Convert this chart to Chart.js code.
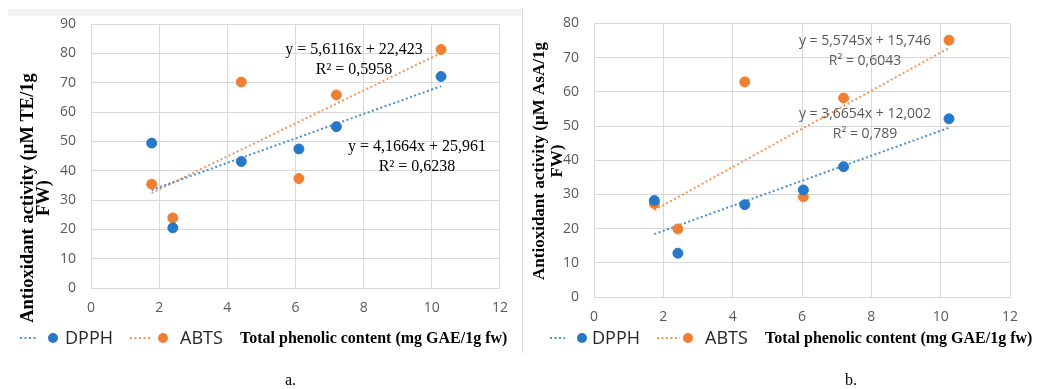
<!DOCTYPE html>
<html>
<head>
<meta charset="utf-8">
<script src="https://cdn.jsdelivr.net/npm/chart.js@4.4.1/dist/chart.umd.min.js"></script>
<style>
  body { margin: 0; background: #fff; }
  #wrap { position: relative; width: 1039px; height: 389px; overflow: hidden; background: #fff; }
  #chartA { position: absolute; left: 0; top: 0; }
  #chartB { position: absolute; left: 523px; top: 0; }
  .strip { position: absolute; left: 8px; top: 9px; width: 514px; height: 7px; background: #f2f2f2; }
  .sep { position: absolute; left: 522px; top: 8px; width: 1px; height: 345px; background: #d9d9d9; }
  .cap { position: absolute; top: 371px; font: 16px "Liberation Serif", serif; color: #000; }
</style>
</head>
<body>
<div id="wrap">
  <div class="strip"></div>
  <div class="sep"></div>
  <canvas id="chartA" width="520" height="389"></canvas>
  <canvas id="chartB" width="516" height="389"></canvas>
  <div class="cap" style="left:285px">a.</div>
  <div class="cap" style="left:845px">b.</div>
</div>
<script>
// panel a.
const phenolA = [1.78, 2.4, 4.41, 6.1, 7.2, 10.27];
const dpphA = [49.4, 20.5, 43.1, 47.4, 55.0, 72.1];
const abtsA = [35.4, 23.9, 70.2, 37.3, 65.8, 81.3];
const trendXA = [1.78, 10.27];
const dpphTrendA = [33.4, 68.8];
const abtsTrendA = [32.4, 80.1];

// panel b.
const phenolB = [1.74, 2.42, 4.35, 6.04, 7.2, 10.24];
const dpphB = [28.2, 12.8, 27.0, 31.3, 38.1, 52.1];
const abtsB = [27.3, 19.9, 62.9, 29.3, 58.2, 75.1];
const trendXB = [1.74, 10.24];
const dpphTrendB = [18.4, 49.5];
const abtsTrendB = [25.4, 72.8];

const xTicks = [0, 2, 4, 6, 8, 10, 12];
const yTicksA = [0, 10, 20, 30, 40, 50, 60, 70, 80, 90];
const yTicksB = [0, 10, 20, 30, 40, 50, 60, 70, 80];

const BLUE = "#2878c8";
const ORANGE = "#f07f32";
const BLUE_LINE = "#4a8fd6";
const ORANGE_LINE = "#f4955a";
const TICK = "#595959";

function pts(xs, ys) {
  return xs.map((x, i) => ({ x, y: ys[i] }));
}

function drawDotted(ctx, x1, x2, y, color) {
  ctx.save();
  ctx.strokeStyle = color;
  ctx.lineWidth = 2;
  ctx.setLineDash([2, 2.5]);
  ctx.beginPath();
  ctx.moveTo(x1, y);
  ctx.lineTo(x2, y);
  ctx.stroke();
  ctx.restore();
}

function drawDot(ctx, x, y, color) {
  ctx.save();
  ctx.fillStyle = color;
  ctx.beginPath();
  ctx.arc(x, y, 5, 0, Math.PI * 2);
  ctx.fill();
  ctx.restore();
}

// texts, legend and axis titles drawn around the plot
function decorPlugin(opt) {
  return {
    id: "decor",
    afterDraw(chart) {
      const ctx = chart.ctx;
      ctx.save();

      // y title, two rotated lines
      ctx.fillStyle = "#000";
      ctx.font = `bold ${opt.yTitleSize}px "Liberation Serif", serif`;
      ctx.textAlign = "center";
      ctx.textBaseline = "middle";
      opt.yTitle.forEach((line, i) => {
        ctx.save();
        ctx.translate(opt.yTitleX[i], opt.yTitleY);
        ctx.rotate(-Math.PI / 2);
        ctx.fillText(line, 0, 0);
        ctx.restore();
      });

      // equations
      ctx.font = opt.eqFont;
      ctx.fillStyle = opt.eqColor;
      opt.equations.forEach(eq => ctx.fillText(eq.text, eq.x, eq.y));

      // legend row
      const ly = opt.legendY;
      const lg = opt.legend;
      drawDotted(ctx, lg[0], lg[1], ly, BLUE_LINE);
      drawDot(ctx, lg[2], ly, BLUE);
      drawDotted(ctx, lg[4], lg[5], ly, ORANGE_LINE);
      drawDot(ctx, lg[6], ly, ORANGE);
      ctx.fillStyle = "#262626";
      ctx.font = '18px "Open Sans", sans-serif';
      ctx.textAlign = "left";
      ctx.fillText("DPPH", lg[3], ly + 1);
      ctx.fillText("ABTS", lg[7], ly + 1);

      // x title next to the legend
      ctx.fillStyle = "#000";
      ctx.font = `bold ${opt.xTitleSize}px "Liberation Serif", serif`;
      ctx.fillText("Total phenolic content (mg GAE/1g fw)", opt.xTitleX, ly + 1);
      ctx.restore();
    }
  };
}

function buildChart(id, xs, dpph, abts, trendX, dpphTrend, abtsTrend, yTicks, geo, decor) {
  const ctx = document.getElementById(id).getContext("2d");
  return new Chart(ctx, {
    type: "scatter",
    data: {
      datasets: [
        {
          label: "DPPH",
          data: pts(xs, dpph),
          backgroundColor: BLUE,
          borderColor: BLUE,
          pointRadius: 5,
          pointHoverRadius: 5
        },
        {
          label: "ABTS",
          data: pts(xs, abts),
          backgroundColor: ORANGE,
          borderColor: ORANGE,
          pointRadius: 5,
          pointHoverRadius: 5
        },
        {
          label: "DPPH trend",
          type: "line",
          data: pts(trendX, dpphTrend),
          borderColor: BLUE_LINE,
          borderWidth: 2,
          borderDash: [2, 2.5],
          pointRadius: 0,
          fill: false
        },
        {
          label: "ABTS trend",
          type: "line",
          data: pts(trendX, abtsTrend),
          borderColor: ORANGE_LINE,
          borderWidth: 2,
          borderDash: [2, 2.5],
          pointRadius: 0,
          fill: false
        }
      ]
    },
    options: {
      responsive: false,
      animation: false,
      layout: { padding: geo.padding },
      plugins: {
        legend: { display: false },
        tooltip: { enabled: false }
      },
      scales: {
        x: {
          type: "linear",
          min: xTicks[0],
          max: xTicks[xTicks.length - 1],
          afterBuildTicks: s => { s.ticks = xTicks.map(v => ({ value: v })); },
          afterFit: s => { s.height = 30; },
          grid: { color: "#d9d9d9", drawTicks: false },
          border: { color: "#d9d9d9" },
          ticks: { color: TICK, font: { size: 14, family: '"Open Sans", sans-serif' }, padding: 12 }
        },
        y: {
          type: "linear",
          min: yTicks[0],
          max: yTicks[yTicks.length - 1],
          afterBuildTicks: s => { s.ticks = yTicks.map(v => ({ value: v })); },
          afterFit: s => { s.width = geo.yWidth; },
          grid: { color: "#d9d9d9", drawTicks: false },
          border: { color: "#d9d9d9" },
          ticks: { color: TICK, font: { size: 14, family: '"Open Sans", sans-serif' }, padding: 15 }
        }
      }
    },
    plugins: [decorPlugin(decor)]
  });
}

buildChart("chartA", phenolA, dpphA, abtsA, trendXA, dpphTrendA, abtsTrendA, yTicksA,
  { padding: { top: 24, right: 18, bottom: 71, left: 0 }, yWidth: 91 },
  {
    yTitle: ["Antioxidant activity (µM TE/1g", "FW)"],
    yTitleX: [28, 44],
    yTitleY: 198,
    yTitleSize: 18.5,
    eqFont: '16px "Liberation Serif", serif',
    eqColor: "#000",
    equations: [
      { text: "y = 5,6116x + 22,423", x: 354, y: 50 },
      { text: "R² = 0,5958", x: 354, y: 70 },
      { text: "y = 4,1664x + 25,961", x: 417, y: 147 },
      { text: "R² = 0,6238", x: 417, y: 167 }
    ],
    legendY: 338,
    legend: [20, 38, 53, 65, 130, 150, 163, 180],
    xTitleX: 240,
    xTitleSize: 16
  });

buildChart("chartB", phenolB, dpphB, abtsB, trendXB, dpphTrendB, abtsTrendB, yTicksB,
  { padding: { top: 16, right: 29, bottom: 62, left: 0 }, yWidth: 71 },
  {
    yTitle: ["Antioxidant activity (µM AsA/1g", "FW)"],
    yTitleX: [17, 35],
    yTitleY: 161,
    yTitleSize: 17,
    eqFont: '14px "Open Sans", sans-serif',
    eqColor: "#595959",
    equations: [
      { text: "y = 5,5745x + 15,746", x: 342, y: 41 },
      { text: "R² = 0,6043", x: 342, y: 61 },
      { text: "y = 3,6654x + 12,002", x: 342, y: 114 },
      { text: "R² = 0,789", x: 342, y: 134 }
    ],
    legendY: 338,
    legend: [27, 42, 59, 69, 134, 157, 165, 182],
    xTitleX: 242,
    xTitleSize: 16
  });
</script>
</body>
</html>
